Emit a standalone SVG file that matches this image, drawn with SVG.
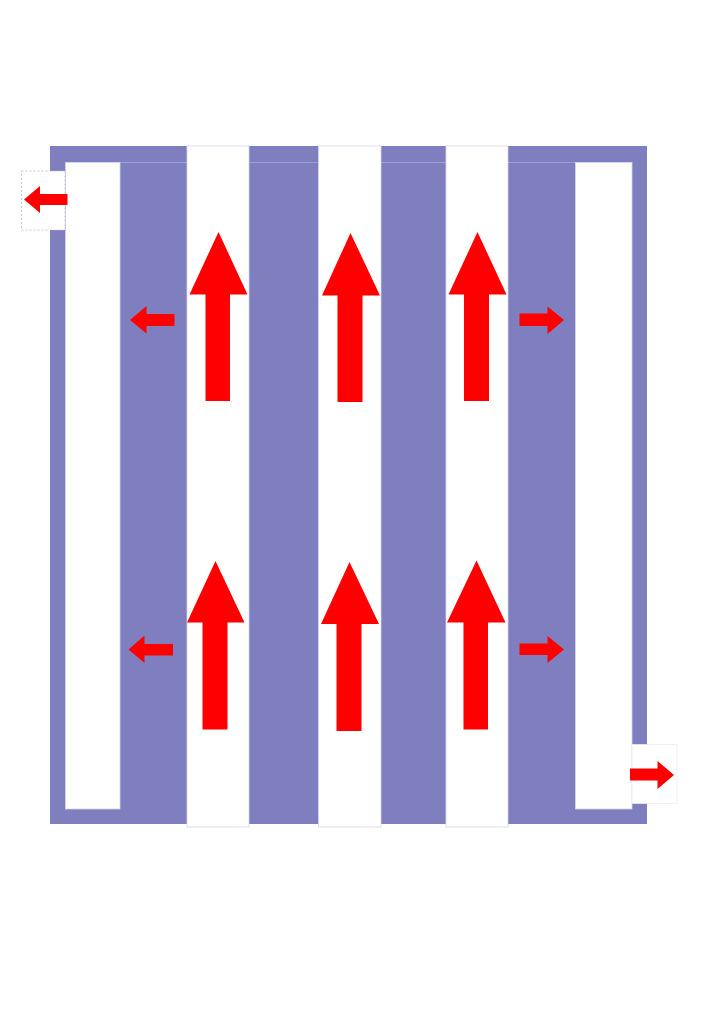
<svg xmlns="http://www.w3.org/2000/svg" width="724" height="1024" viewBox="0 0 724 1024">
<style>
.bg{fill:#7f7fbf}
.ch{fill:#ffffff;stroke:#d4d4ee;stroke-width:0.8}
.box{fill:#ffffff;stroke:#b8b8e0;stroke-width:0.8;stroke-dasharray:2 2}
.box2{fill:#ffffff;stroke:#ececf4;stroke-width:0.8}
.ar{fill:#ff0000}
</style>
<rect width="724" height="1024" fill="#ffffff"/>
<g id="frame">
<rect class="bg" x="50" y="146" width="597" height="678"/>
<line x1="65" y1="162.5" x2="632" y2="162.5" stroke="#a6a6d6" stroke-width="0.8"/>
</g>
<g id="left-channel"><rect class="ch" x="65.5" y="162.5" width="54.5" height="646.5"/></g>
<g id="right-channel"><rect class="ch" x="575.5" y="162.5" width="56.5" height="646.5"/></g>
<g id="column-1"><rect class="ch" x="187" y="146" width="62" height="681"/></g>
<g id="column-2"><rect class="ch" x="318.5" y="146" width="62.5" height="681"/></g>
<g id="column-3"><rect class="ch" x="446" y="146" width="62" height="681"/></g>
<g id="outlet-left"><rect class="box" x="21.5" y="171" width="43.5" height="59"/></g>
<g id="outlet-right"><rect class="box2" x="632" y="744.5" width="45" height="59"/></g>
<g id="arrows">
<polygon class="ar" points="24,199.5 40,186 40,194 67.5,194 67.5,205 40,205 40,213"/>
<polygon class="ar" points="130,320 146.5,306 146.5,314 174.5,314 174.5,326 146.5,326 146.5,333.5"/>
<polygon class="ar" points="128.5,649.5 144.5,635.5 144.5,644 173,644 173,655.5 144.5,655.5 144.5,663"/>
<polygon class="ar" points="564,320 547.5,306.5 547.5,313.5 519.5,313.5 519.5,326 547.5,326 547.5,334"/>
<polygon class="ar" points="564,649.5 547.5,636 547.5,643.5 519.5,643.5 519.5,655 547.5,655 547.5,663"/>
<polygon class="ar" points="674,775 657.5,761 657.5,768.5 630,768.5 630,780.5 657.5,780.5 657.5,789"/>
<polygon class="ar" points="218.5,232 247.5,294.5 230,294.5 230,401 205.5,401 205.5,294.5 189.5,294.5"/>
<polygon class="ar" points="350.5,233 380,295.5 362.5,295.5 362.5,402 337.5,402 337.5,295.5 322,295.5"/>
<polygon class="ar" points="477.5,232 506.5,294.5 489,294.5 489,401 464,401 464,294.5 448.5,294.5"/>
<polygon class="ar" points="215.5,561 244.5,622.5 227.5,622.5 227.5,729.5 202.5,729.5 202.5,622.5 187,622.5"/>
<polygon class="ar" points="349.5,562 379,624 361.5,624 361.5,731 336.5,731 336.5,624 321,624"/>
<polygon class="ar" points="476.5,560.5 505.5,622.5 488,622.5 488,729.5 463.5,729.5 463.5,622.5 447,622.5"/>
</g>
</svg>
